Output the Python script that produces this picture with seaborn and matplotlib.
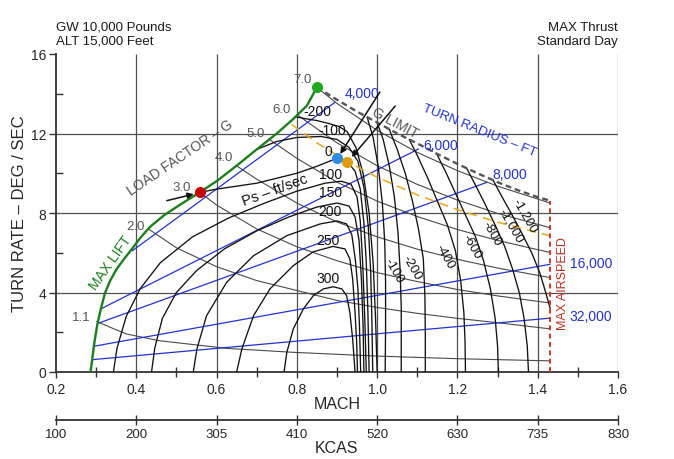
import matplotlib
matplotlib.use('Agg')
import matplotlib.pyplot as plt
import seaborn as sns

# ---------------- data ----------------
mach_ticks = [0.2, 0.4, 0.6, 0.8, 1.0, 1.2, 1.4, 1.6]
mach_minor = [0.3, 0.5, 0.7, 0.9, 1.1, 1.3, 1.5]
kcas_labels = ['100', '200', '305', '410', '520', '630', '735', '830']
rate_ticks = [0, 4, 8, 12, 16]
rate_minor = [2, 6, 10, 14]
grid_mach = [0.4, 0.6, 0.8, 1.0, 1.2, 1.4, 1.6]
grid_rate = [4, 8, 12]

max_lift_mach = [0.286, 0.290, 0.295, 0.303, 0.312, 0.322, 0.335, 0.351, 0.370, 0.389,
                 0.410, 0.434, 0.470, 0.510, 0.558, 0.600, 0.650, 0.700, 0.750, 0.791,
                 0.825, 0.850]
max_lift_rate = [0.0, 0.6, 1.4, 2.4, 3.2, 3.97, 4.6, 5.18, 5.7, 6.19,
                 6.75, 7.3, 7.9, 8.43, 9.04, 9.6, 10.38, 11.2, 12.0, 12.73,
                 13.4, 14.32]

g_limit_mach = [0.85, 0.90, 0.95, 1.00, 1.05, 1.10, 1.15, 1.20, 1.25, 1.30, 1.35, 1.40, 1.431]
g_limit_rate = [14.32, 13.7, 13.1, 12.55, 12.0, 11.5, 10.97, 10.47, 10.0, 9.55, 9.15, 8.8, 8.62]

max_speed_mach = [1.431, 1.431]
max_speed_rate = [0.0, 8.62]

corner_mach = [0.787, 0.85, 0.926, 1.0, 1.1, 1.2, 1.3, 1.431]
corner_rate = [12.45, 11.53, 10.58, 9.8, 8.91, 8.17, 7.54, 6.85]

lf_labels = ['1.1', '2.0', '3.0', '4.0', '5.0', '6.0', '7.0']
lf_mach = [
    [0.301, 0.335, 0.376, 0.459, 0.625, 0.791, 1.0, 1.2, 1.431],
    [0.43, 0.5, 0.6, 0.7, 0.8, 0.9, 1.0, 1.1, 1.2, 1.3, 1.431],
    [0.558, 0.6, 0.7, 0.8, 0.9, 1.0, 1.1, 1.2, 1.3, 1.431],
    [0.648, 0.7, 0.8, 0.9, 1.0, 1.1, 1.2, 1.3, 1.431],
    [0.73, 0.8, 0.9, 1.0, 1.1, 1.2, 1.3, 1.431],
    [0.80, 0.9, 1.0, 1.1, 1.2, 1.3, 1.431],
    [0.85, 0.9, 1.0, 1.1, 1.2, 1.3, 1.431],
]
lf_rate = [
    [2.55, 2.25, 1.91, 1.57, 1.19, 0.99, 0.80, 0.67, 0.56],
    [7.2, 6.25, 5.3, 4.6, 4.1, 3.6, 3.25, 2.95, 2.7, 2.48, 2.17],
    [9.04, 8.4, 7.2, 6.3, 5.6, 5.0, 4.55, 4.15, 3.83, 3.47],
    [10.4, 9.7, 8.5, 7.55, 6.8, 6.18, 5.67, 5.23, 4.75],
    [11.72, 10.75, 9.55, 8.6, 7.82, 7.17, 6.62, 6.01],
    [12.95, 11.53, 10.38, 9.44, 8.65, 7.98, 7.26],
    [14.32, 13.51, 12.16, 11.05, 10.13, 9.35, 8.5],
]
lf_label_mach = [0.262, 0.399, 0.514, 0.619, 0.698, 0.763, 0.815]
lf_label_rate = [2.77, 7.35, 9.31, 10.82, 12.03, 13.23, 14.74]

tr_labels = ['4,000', '6,000', '8,000', '16,000', '32,000']
tr_mach = [[0.39, 0.895], [0.314, 1.103], [0.305, 1.273], [0.293, 1.431], [0.29, 1.431]]
tr_rate = [[6.1, 13.57], [3.2, 11.22], [2.45, 9.54], [1.29, 5.42], [0.62, 2.71]]
tr_label_mach = [0.963, 1.157, 1.331, 1.533, 1.533]
tr_label_rate = [14.04, 11.42, 9.96, 5.48, 2.82]

ps_left_labels = ['300', '250', '200', '150', '100', '0', '-100', '-200']
ps_left_mach = [
    [0.768, 0.775, 0.791, 0.816, 0.841, 0.866, 0.891, 0.912, 0.924, 0.932, 0.939, 0.945],
    [0.650, 0.663, 0.692, 0.733, 0.791, 0.841, 0.890, 0.920, 0.932, 0.939, 0.945, 0.949, 0.951],
    [0.542, 0.551, 0.575, 0.625, 0.692, 0.775, 0.858, 0.900, 0.924, 0.937, 0.946, 0.952, 0.956, 0.959],
    [0.438, 0.446, 0.465, 0.500, 0.550, 0.620, 0.700, 0.780, 0.850, 0.900, 0.930, 0.945, 0.955, 0.961, 0.965, 0.967],
    [0.343, 0.352, 0.375, 0.410, 0.460, 0.540, 0.630, 0.720, 0.800, 0.870, 0.910, 0.935, 0.950, 0.958, 0.964, 0.969, 0.973],
    [0.558, 0.60, 0.65, 0.70, 0.75, 0.80, 0.85, 0.899, 0.926, 0.945, 0.958, 0.967, 0.973, 0.977, 0.980],
    [0.70, 0.75, 0.80, 0.86, 0.90, 0.93, 0.952, 0.967, 0.978, 0.984, 0.987, 0.989],
    [0.795, 0.82, 0.85, 0.88, 0.905, 0.925, 0.947, 0.965, 0.980, 0.990, 0.996, 1.000],
]
ps_left_rate = [
    [0.0, 0.99, 2.16, 3.17, 3.84, 4.18, 4.29, 4.18, 3.84, 3.0, 1.66, 0.0],
    [0.0, 1.16, 2.83, 4.18, 5.35, 6.05, 6.32, 6.19, 5.69, 4.68, 3.0, 1.5, 0.0],
    [0.0, 1.16, 2.83, 4.51, 5.85, 6.86, 7.45, 7.6, 7.45, 6.9, 5.6, 4.2, 2.3, 0.0],
    [0.0, 1.2, 2.7, 4.0, 5.1, 6.2, 7.1, 7.8, 8.3, 8.5, 8.35, 7.8, 6.6, 4.6, 2.3, 0.0],
    [0.0, 1.2, 2.8, 4.2, 5.5, 6.8, 7.75, 8.5, 9.1, 9.5, 9.6, 9.45, 8.8, 7.6, 5.5, 2.8, 0.0],
    [9.04, 9.2, 9.35, 9.5, 9.75, 10.0, 10.35, 10.75, 10.58, 10.1, 9.2, 7.5, 5.5, 3.0, 0.0],
    [11.2, 11.6, 11.8, 11.85, 11.7, 11.3, 10.6, 9.3, 7.3, 5.0, 2.5, 0.0],
    [12.85, 12.75, 12.65, 12.5, 12.35, 12.1, 11.3, 10.0, 8.0, 5.5, 2.7, 0.0],
]
ps_left_label_mach = [0.878, 0.878, 0.883, 0.883, 0.883, 0.878, 0.888, 0.85]
ps_left_label_rate = [4.72, 6.64, 8.1, 9.06, 9.96, 11.13, 12.2, 13.15]

ps_right_labels = ['-100', '-200', '-400', '-600', '-800', '-1,000', '-1,200']
ps_right_mach = [
    [0.975, 0.990, 1.003, 1.013, 1.019, 1.021, 1.021, 1.020],
    [1.000, 1.015, 1.030, 1.043, 1.052, 1.057, 1.060, 1.060, 1.060],
    [1.030, 1.050, 1.070, 1.088, 1.103, 1.115, 1.119, 1.120, 1.120],
    [1.080, 1.100, 1.125, 1.150, 1.175, 1.195, 1.208, 1.216, 1.219, 1.220],
    [1.148, 1.170, 1.195, 1.220, 1.245, 1.265, 1.282, 1.294, 1.300, 1.302],
    [1.223, 1.245, 1.270, 1.295, 1.318, 1.337, 1.354, 1.366, 1.374, 1.377],
    [1.289, 1.310, 1.335, 1.360, 1.385, 1.405, 1.420, 1.431],
]
ps_right_rate = [
    [12.83, 11.8, 10.3, 8.5, 6.5, 4.5, 2.2, 0.0],
    [12.55, 11.7, 10.4, 8.8, 7.0, 5.2, 3.3, 1.6, 0.0],
    [12.22, 11.2, 10.0, 8.6, 7.2, 5.7, 3.8, 1.9, 0.0],
    [11.7, 10.9, 9.8, 8.6, 7.4, 6.1, 4.6, 3.0, 1.5, 0.0],
    [10.99, 10.1, 9.0, 7.9, 6.8, 5.6, 4.2, 2.7, 1.3, 0.0],
    [10.25, 9.4, 8.4, 7.35, 6.3, 5.2, 4.0, 2.7, 1.3, 0.0],
    [9.65, 8.85, 7.95, 7.0, 6.0, 5.0, 4.0, 3.2],
]
ps_right_label_mach = [1.042, 1.087, 1.167, 1.236, 1.286, 1.333, 1.368]
ps_right_label_rate = [5.13, 5.28, 5.84, 6.34, 7.0, 7.4, 7.9]

pt_mach = [0.558, 0.85, 0.899, 0.926]
pt_rate = [9.04, 14.32, 10.75, 10.58]
pt_colors = ['#c40000', '#22a722', '#2f8de4', '#dc9d0e']

arrow_tail_mach = [0.476, 1.007, 1.045]
arrow_tail_rate = [8.62, 14.09, 13.38]
arrow_head_mach = [0.543, 0.908, 0.937]
arrow_head_rate = [8.95, 10.97, 10.82]

# ---------------- style ----------------
sns.set_theme(style='white')
plt.rcParams['font.family'] = ['Liberation Sans', 'DejaVu Sans']
plt.rcParams['text.color'] = '#1a1a1a'

GRAY = '#4a4a4a'
BLUE = '#2233cc'
BLACK = '#111111'
GREEN = '#1e7d1e'
RED = '#b8311f'
ORANGE = '#e6a817'

fig = plt.figure(figsize=(6.74, 4.60), dpi=100)
ax = fig.add_axes([56 / 674, 87 / 460, 562 / 674, 318 / 460])
ax.set_xlim(0.2, 1.6)
ax.set_ylim(0, 16)

# grid
ax.hlines(grid_rate, 0.2, 1.6, colors='#505050', lw=0.9, zorder=1)
ax.vlines(grid_mach, 0, 16, colors='#505050', lw=0.9, zorder=1)


def curve(xs, ys, color, lw, z=2, dashes=None):
    sns.lineplot(x=xs, y=ys, ax=ax, sort=False, estimator=None,
                 color=color, lw=lw, zorder=z)
    line = ax.lines[-1]
    if dashes is not None:
        line.set_dashes(dashes)
    return line


# load factor lines
for xs, ys in zip(lf_mach, lf_rate):
    curve(xs, ys, GRAY, 0.8, z=2)
for lab, x, y in zip(lf_labels, lf_label_mach, lf_label_rate):
    ax.text(x, y, lab, color='#555555', fontsize=9.5, ha='center', va='center', zorder=6)

# turn radius lines
for xs, ys in zip(tr_mach, tr_rate):
    curve(xs, ys, BLUE, 0.9, z=3)
for lab, x, y in zip(tr_labels, tr_label_mach, tr_label_rate):
    ax.text(x, y, lab, color=BLUE, fontsize=10, ha='center', va='center', zorder=6)

# Ps contours
for xs, ys in zip(ps_left_mach, ps_left_rate):
    curve(xs, ys, BLACK, 0.95, z=4)
for xs, ys in zip(ps_right_mach, ps_right_rate):
    curve(xs, ys, BLACK, 0.95, z=4)
for lab, x, y in zip(ps_left_labels, ps_left_label_mach, ps_left_label_rate):
    ax.text(x, y, lab, color=BLACK, fontsize=10, ha='center', va='center', zorder=6)
for lab, x, y in zip(ps_right_labels, ps_right_label_mach, ps_right_label_rate):
    ax.text(x, y, lab, color=BLACK, fontsize=9.5, ha='center', va='center',
            rotation=-60, rotation_mode='anchor', zorder=6)

# boundaries
curve(corner_mach, corner_rate, ORANGE, 1.1, z=4, dashes=(6, 4))
curve(max_lift_mach, max_lift_rate, GREEN, 1.7, z=5)
curve(g_limit_mach, g_limit_rate, '#555555', 1.7, z=5, dashes=(2.5, 1.6))
curve(max_speed_mach, max_speed_rate, '#c0392b', 1.4, z=5, dashes=(2.5, 1.8))

# key points
for x, y, c in zip(pt_mach, pt_rate, pt_colors):
    ax.plot([x], [y], 'o', color=c, ms=8, mec='none', zorder=8)

# arrows
for tx, ty, hx, hy in zip(arrow_tail_mach, arrow_tail_rate, arrow_head_mach, arrow_head_rate):
    ax.annotate('', xy=(hx, hy), xytext=(tx, ty), zorder=9,
                arrowprops=dict(arrowstyle='-|>', color=BLACK, lw=1.1,
                                mutation_scale=9, shrinkA=0, shrinkB=0))

# annotations
ax.text(0.509, 10.82, 'LOAD FACTOR – G', color='#555555', fontsize=10, rotation=34,
        ha='center', va='center', rotation_mode='anchor', zorder=6)
ax.text(1.045, 12.55, 'G LIMIT', color='#555555', fontsize=10, rotation=-28,
        ha='center', va='center', rotation_mode='anchor', zorder=6)
ax.text(1.254, 12.18, 'TURN RADIUS – FT', color=BLUE, fontsize=9.5, rotation=-22,
        ha='center', va='center', rotation_mode='anchor', zorder=6)
ax.text(0.746, 9.2, 'Ps – ft/sec', color=BLACK, fontsize=10.5, rotation=20,
        ha='center', va='center', rotation_mode='anchor', zorder=6)
ax.text(0.337, 5.53, 'MAX LIFT', color=GREEN, fontsize=10, rotation=55,
        ha='center', va='center', rotation_mode='anchor', zorder=6)
ax.text(1.463, 4.48, 'MAX AIRSPEED', color=RED, fontsize=9, rotation=90,
        ha='center', va='center', rotation_mode='anchor', zorder=6)

# axes styling
for s in ['top', 'right']:
    ax.spines[s].set_visible(False)
for s in ['left', 'bottom']:
    ax.spines[s].set_color('#333333')
    ax.spines[s].set_linewidth(1.3)

ax.set_xticks(mach_ticks)
ax.set_xticklabels([f'{v:.1f}' for v in mach_ticks])
ax.set_xticks(mach_minor, minor=True)
ax.set_yticks(rate_ticks)
ax.set_yticks(rate_minor, minor=True)
ax.tick_params(axis='x', which='major', direction='out', length=4, width=1,
               color='#333333', labelsize=10, pad=3, bottom=True)
ax.tick_params(axis='x', which='minor', direction='inout', length=7, width=1,
               color='#333333', bottom=True)
ax.tick_params(axis='y', which='major', direction='out', length=5, width=1,
               color='#333333', labelsize=10, pad=2, left=True)
ax.tick_params(axis='y', which='minor', direction='in', length=5, width=1,
               color='#333333', left=True)
ax.set_xlabel('MACH', fontsize=11.5, labelpad=0)
ax.set_ylabel('TURN RATE – DEG / SEC', fontsize=12, labelpad=3)

sec = ax.secondary_xaxis(-0.151)
sec.set_xticks(mach_ticks)
sec.set_xticklabels(kcas_labels)
sec.tick_params(axis='x', direction='inout', length=7, width=1, color='#333333',
                labelsize=9.5, pad=2)
sec.spines['bottom'].set_color('#333333')
sec.spines['bottom'].set_linewidth(1.3)
sec.set_xlabel('KCAS', fontsize=11.5, labelpad=0)

# header texts
fig.text(56 / 674, 1 - 28 / 460, 'GW 10,000 Pounds', fontsize=9.5, ha='left', va='center')
fig.text(56 / 674, 1 - 42 / 460, 'ALT 15,000 Feet', fontsize=9.5, ha='left', va='center')
fig.text(618 / 674, 1 - 28 / 460, 'MAX Thrust', fontsize=9.5, ha='right', va='center')
fig.text(618 / 674, 1 - 42 / 460, 'Standard Day', fontsize=9.5, ha='right', va='center')

fig.savefig('out.png', dpi=100, facecolor='white')
